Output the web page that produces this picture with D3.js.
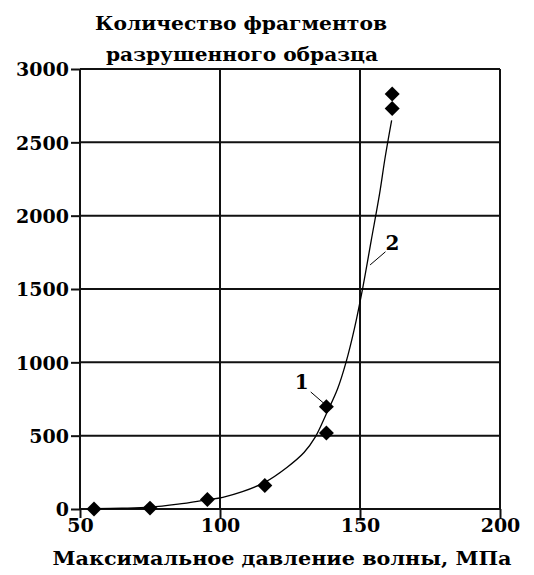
<!DOCTYPE html>
<html>
<head>
<meta charset="utf-8">
<script src="https://cdn.jsdelivr.net/npm/d3@7"></script>
<style>
  body { margin: 0; background: #fff; }
  svg text { font-family: "DejaVu Serif", serif; font-weight: bold; fill: #000; }
</style>
</head>
<body>
<div id="chart"></div>
<script>
// measured points (diamonds)
const pointX = [55, 75, 95.5, 116, 138, 138, 161.5, 161.5];
const pointY = [0, 6, 65, 160, 698, 518, 2730, 2830];

// fitted curve
const curveX = [55, 65, 75, 85, 95, 101, 108, 116, 124, 130, 134, 138, 142, 145, 148, 151, 154, 157, 159, 161.3];
const curveY = [2, 5, 12, 33, 62, 80, 118, 182, 285, 385, 490, 650, 820, 1000, 1230, 1510, 1830, 2150, 2400, 2650];

const xTicks = [50, 100, 150, 200];
const yTicks = [0, 500, 1000, 1500, 2000, 2500, 3000];

// curve labels: text, label position, leader from/to
const labelText = ['1', '2'];
const labelPos = [[129.2, 866], [161.6, 1813]];
const leaderFrom = [[132.4, 798], [159.1, 1754]];
const leaderTo = [[137.6, 712], [153.6, 1664]];

const titleLines = ['Количество фрагментов', 'разрушенного образца'];
const xTitle = 'Максимальное давление волны, МПа';

const W = 534, H = 575;
const svg = d3.select('#chart').append('svg')
  .attr('width', W).attr('height', H);

const x = d3.scaleLinear().domain([50, 200]).range([80, 500]);
const y = d3.scaleLinear().domain([0, 3000]).range([509, 69]);

// grid
svg.append('g').selectAll('line.gx')
  .data(xTicks).enter().append('line')
  .attr('x1', d => x(d)).attr('x2', d => x(d))
  .attr('y1', y(0)).attr('y2', y(3000))
  .attr('stroke', '#111').attr('stroke-width', 2);
svg.append('g').selectAll('line.gy')
  .data(yTicks).enter().append('line')
  .attr('y1', d => y(d)).attr('y2', d => y(d))
  .attr('x1', x(50)).attr('x2', x(200))
  .attr('stroke', '#111').attr('stroke-width', 2);

// axes
const yAxis = d3.axisLeft(y).tickValues(yTicks).tickSize(9).tickPadding(2).tickFormat(d3.format('d'));
const gy = svg.append('g').attr('transform', `translate(${x(50)},0)`).call(yAxis);
const xAxis = d3.axisBottom(x).tickValues(xTicks).tickSize(9).tickPadding(1).tickFormat(d3.format('d'));
const gx = svg.append('g').attr('transform', `translate(0,${y(0)})`).call(xAxis);
[gx, gy].forEach(g => {
  g.select('.domain').remove();
  g.selectAll('.tick line').attr('stroke', '#111').attr('stroke-width', 2);
  g.selectAll('.tick text').style('font-size', '19px')
    .style('font-family', '"DejaVu Serif", serif').style('font-weight', 'bold').attr('fill', '#000');
});
gy.selectAll('.tick text').attr('dy', '0.36em');

// curve
const line = d3.line().x(d => x(d[0])).y(d => y(d[1])).curve(d3.curveCatmullRom);
svg.append('path')
  .datum(curveX.map((d, i) => [d, curveY[i]]))
  .attr('d', line)
  .attr('fill', 'none').attr('stroke', '#000').attr('stroke-width', 1.3);

// diamonds
svg.append('g').selectAll('path')
  .data(pointX.map((d, i) => [d, pointY[i]]))
  .enter().append('path')
  .attr('d', d3.symbol().type(d3.symbolSquare).size(112))
  .attr('transform', d => `translate(${x(d[0])},${y(d[1])}) rotate(45)`)
  .attr('fill', '#000');

// curve labels
labelText.forEach((t, i) => {
  svg.append('line')
    .attr('x1', x(leaderFrom[i][0])).attr('y1', y(leaderFrom[i][1]))
    .attr('x2', x(leaderTo[i][0])).attr('y2', y(leaderTo[i][1]))
    .attr('stroke', '#000').attr('stroke-width', 1);
  svg.append('text')
    .attr('x', x(labelPos[i][0])).attr('y', y(labelPos[i][1]))
    .attr('text-anchor', 'middle').attr('dy', '0.36em')
    .style('font-size', '20px').text(t);
});

// titles
svg.append('text').attr('x', 241).attr('y', 30).attr('text-anchor', 'middle')
  .style('font-size', '19px').attr('textLength', 292).attr('lengthAdjust', 'spacingAndGlyphs')
  .text(titleLines[0]);
svg.append('text').attr('x', 242).attr('y', 61).attr('text-anchor', 'middle')
  .style('font-size', '19px').attr('textLength', 272).attr('lengthAdjust', 'spacingAndGlyphs')
  .text(titleLines[1]);
svg.append('text').attr('x', 282).attr('y', 565).attr('text-anchor', 'middle')
  .style('font-size', '19px').attr('textLength', 459).attr('lengthAdjust', 'spacingAndGlyphs')
  .text(xTitle);
</script>
</body>
</html>
